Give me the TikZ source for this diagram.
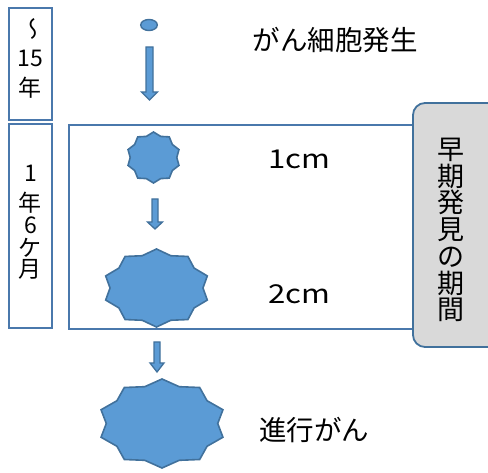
\documentclass[tikz,border=0pt]{standalone}
\usepackage{fontspec}
\usepackage{graphicx}
\setmainfont{Noto Sans CJK JP}
\usetikzlibrary{shapes.geometric}
\definecolor{bfill}{HTML}{5B9BD5}
\definecolor{bline}{HTML}{41719C}
\definecolor{boxline}{HTML}{4A78AC}
\definecolor{gfill}{HTML}{D9D9D9}
\newcommand\blkarrow[6]{% x, top, tip, half shaft, half head, head length
  \draw[blockarr] ({#1-#4},#2) -- ({#1+#4},#2) -- ({#1+#4},{#3-#6}) -- ({#1+#5},{#3-#6})
    -- (#1,#3) -- ({#1-#5},{#3-#6}) -- ({#1-#4},{#3-#6}) -- cycle;}
\begin{document}
\begin{tikzpicture}[x=1pt,y=-1pt,
  blockarr/.style={fill=bfill,draw=bline,line width=1.3pt,line join=miter},
  starten/.style={star,star points=10,star point ratio=1.15,fill=bfill,draw=bline,
    line width=1.6pt,inner sep=0pt,transform shape},
  yearbox/.style={draw=boxline,line width=2.5pt},
  lbl/.style={inner sep=0pt,text=black},
  colfont/.style={font=\fontsize{23}{23}\selectfont},
]
\useasboundingbox (0,0) rectangle (488,473);
% left column boxes
\draw[yearbox] (9,8) rectangle (52,120);
\draw[yearbox] (9,124) rectangle (52,328);
\node[lbl,colfont] (wave) at (30.5,29) {\reflectbox{\rotatebox{90}{〜}}};
\node[lbl,colfont] (y15) at (30.5,58.5) {15};
\node[lbl,colfont] (nen1) at (30.5,88) {年};
\node[lbl,colfont] (one) at (30.5,173) {1};
\node[lbl,colfont] (nen2) at (30.5,202.5) {年};
\node[lbl,colfont] (six) at (30.5,225) {6};
\node[lbl,colfont] (ke) at (30.5,247.5) {ケ};
\node[lbl,colfont] (tsuki) at (30.5,269) {月};
% main box
\draw[yearbox,line width=2.2pt] (69,125) rectangle (430,329);
\draw[draw=bline,fill=gfill,line width=1.8pt,rounded corners=12pt] (413,103) rectangle (500,347);
\node[lbl,font=\fontsize{27}{26.7}\selectfont,align=center] (period) at (451,230)
  {早\\期\\発\\見\\の\\期\\間};
% cell
\draw[fill=bfill,draw=bline,line width=1.4pt] (149,25) ellipse [x radius=8.3,y radius=5.5];
\coordinate (cell) at (149,25);
\blkarrow{149.5}{47}{100}{3.5}{8}{8}
\node[starten,minimum size=51pt,xscale=1.05] (s1) at (153.5,157.5) {};
\blkarrow{155}{199}{229}{3}{7.5}{7}
\node[starten,minimum size=78pt,xscale=1.37] (s2) at (156.5,288) {};
\blkarrow{157}{342}{372}{3}{7}{9}
\node[starten,minimum size=89pt,xscale=1.44] (s3) at (162,423.5) {};
% labels
\node[lbl,font=\fontsize{27.5}{27.5}\selectfont] (t0) at (335,40) {がん細胞発生};
\node[lbl,font=\fontsize{26}{26}\selectfont,anchor=base] (t1) at (299,169) {\resizebox{62pt}{\height}{1cm}};
\node[lbl,font=\fontsize{26}{26}\selectfont,anchor=base] (t2) at (299,304) {\resizebox{62pt}{\height}{2cm}};
\node[lbl,font=\fontsize{27.5}{27.5}\selectfont] (t3) at (314,430) {進行がん};
\end{tikzpicture}
\end{document}
